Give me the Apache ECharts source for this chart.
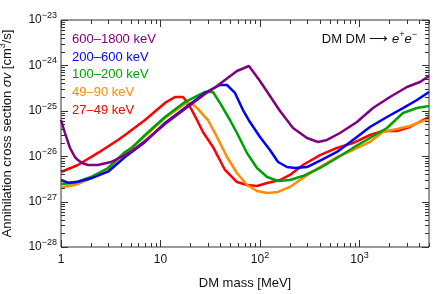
<!DOCTYPE html>
<html><head><meta charset="utf-8">
<script src="https://cdn.jsdelivr.net/npm/echarts@6/dist/echarts.min.js"></script>
<style>html,body{margin:0;padding:0;background:#fff}#c{width:436px;height:294px}</style>
</head><body><div id="c"></div>
<script>
// ---- data ----
const seriesNames = ['27–49 keV', '49–90 keV', '100–200 keV', '200–600 keV', '600–1800 keV'];
const seriesColors = ['#ff0000', '#ff8c00', '#00a000', '#0000ff', '#800080'];

// DM mass [MeV] and sigma v [cm^3/s]
const massRed = [1, 1.48, 2.35, 3.74, 4.4, 6.99, 11.1, 14.0, 16.8, 18.9, 23.3, 26.7, 33.7, 44.5, 58.7, 74.0, 93.3, 118, 159, 200, 270, 401, 594, 860, 1275, 1723, 2382, 3217, 4346, 5000];
const svRed = [4.49e-27, 6.40e-27, 1.18e-26, 2.28e-26, 2.93e-26, 6.27e-26, 1.49e-25, 2.01e-25, 2.01e-25, 1.49e-25, 6.27e-26, 3.41e-26, 1.60e-26, 4.97e-27, 2.70e-27, 2.32e-27, 2.21e-27, 2.57e-27, 2.99e-27, 3.86e-27, 6.40e-27, 1.06e-26, 1.52e-26, 1.95e-26, 2.93e-26, 3.59e-26, 3.59e-26, 4.40e-26, 6.27e-26, 7.3e-26];

const massOrange = [1, 1.38, 2.0, 2.97, 4.4, 6.99, 11.1, 17.6, 20.3, 23.8, 28.0, 30.0, 37.0, 46.6, 58.7, 74.0, 93.3, 118, 152, 200, 270, 401, 594, 860, 1275, 1723, 2382, 3217, 4346, 5000];
const svOrange = [2.07e-27, 2.32e-27, 3.23e-27, 5.23e-27, 1.18e-26, 2.79e-26, 6.94e-26, 1.41e-25, 1.49e-25, 1.10e-25, 7.3e-26, 6.27e-26, 2.65e-26, 9.6e-27, 4.27e-27, 2.32e-27, 1.71e-27, 1.55e-27, 1.63e-27, 2.10e-27, 3.31e-27, 5.78e-27, 9.6e-27, 1.37e-26, 2.06e-26, 3.41e-26, 3.97e-26, 4.62e-26, 5.96e-26, 6.59e-26];

const massGreen = [1, 1.38, 2.0, 2.97, 4.4, 5.29, 6.99, 11.1, 17.6, 28.0, 33.7, 39.6, 49.9, 58.7, 74.0, 93.3, 118, 152, 200, 270, 401, 594, 860, 1275, 1890, 2736, 3785, 5000];
const svGreen = [2.44e-27, 2.61e-27, 3.48e-27, 5.50e-27, 1.24e-26, 1.60e-26, 2.93e-26, 7.3e-26, 1.56e-25, 2.60e-25, 2.60e-25, 1.49e-25, 6.27e-26, 3.24e-26, 1.18e-26, 5.50e-27, 3.48e-27, 2.85e-27, 2.99e-27, 3.66e-27, 5.50e-27, 9.12e-27, 1.52e-26, 2.52e-26, 4.18e-26, 8.95e-26, 1.15e-25, 1.28e-25];

const massBlue = [1, 1.176, 1.48, 2.0, 2.97, 4.4, 6.99, 11.1, 17.6, 28.0, 39.6, 46.6, 56.1, 67.5, 79.3, 100, 126, 152, 187, 225, 297, 430, 594, 860, 1275, 1890, 2736, 3785, 5000];
const svBlue = [2.99e-27, 2.61e-27, 2.74e-27, 3.26e-27, 4.56e-27, 9.6e-27, 2.06e-26, 5.38e-26, 1.15e-25, 2.47e-25, 3.70e-25, 3.70e-25, 2.47e-25, 1.04e-25, 5.66e-26, 2.65e-26, 1.37e-26, 7.45e-27, 5.78e-27, 5.50e-27, 5.78e-27, 8.67e-27, 1.24e-26, 2.28e-26, 4.40e-26, 7.3e-26, 1.15e-25, 1.73e-25, 2.60e-25];

const massPurple = [1, 1.097, 1.23, 1.38, 1.48, 1.63, 1.87, 2.35, 3.18, 4.4, 5.29, 6.99, 11.1, 17.6, 28.0, 37.0, 58.7, 77.5, 100, 159, 215, 297, 383, 472, 637, 944, 1367, 2025, 3002, 4055, 5000];
const svPurple = [6.27e-26, 3.24e-26, 1.52e-26, 9.6e-27, 8.24e-27, 7.08e-27, 6.40e-27, 6.40e-27, 7.45e-27, 1.06e-26, 1.37e-26, 2.16e-26, 5.12e-26, 1.10e-25, 2.34e-25, 3.52e-25, 7.53e-25, 9.7e-25, 4.53e-25, 9.9e-26, 4.18e-26, 2.52e-26, 2.06e-26, 2.28e-26, 3.24e-26, 5.66e-26, 1.15e-25, 2.01e-25, 3.34e-25, 4.31e-25, 5.84e-25];

const xMin = 1, xMax = 5000;
const yMinExp = -28, yMaxExp = -23;
const xLabelValues = [1, 10, 100, 1000];

// ---- build ----
// ECharts' log scale rounds very small numbers to 0, so the y values are
// expressed in units of 10^-28 cm^3/s on the log axis and labelled back.
const Y_UNIT_EXP = -28;
const yScale = v => v * Math.pow(10, -Y_UNIT_EXP);
const yMin = yScale(Math.pow(10, yMinExp)), yMax = yScale(Math.pow(10, yMaxExp));

const FONT = '"Liberation Sans", Arial, Helvetica, sans-serif';
const masses = [massRed, massOrange, massGreen, massBlue, massPurple];
const svs = [svRed, svOrange, svGreen, svBlue, svPurple];

function zip(a, b) { return a.map((v, i) => [v, yScale(b[i])]); }

// tick list: [x, y, kind(0=x,1=y), major]
const tickItems = [];
for (let e = 0; e <= 3; e++) {
  for (let k = 1; k <= 9; k++) {
    const v = k * Math.pow(10, e);
    if (v <= xMax) tickItems.push([v, yMin, 0, k === 1 ? 1 : 0]);
  }
}
for (let e = yMinExp; e < yMaxExp; e++) {
  for (let k = 1; k <= 9; k++) {
    tickItems.push([xMin, yScale(k * Math.pow(10, e)), 1, k === 1 ? 1 : 0]);
  }
}
tickItems.push([xMin, yMax, 1, 1]);

const lineSeries = seriesNames.map((n, i) => ({
  name: n, type: 'line', data: zip(masses[i], svs[i]), showSymbol: false,
  lineStyle: { color: seriesColors[i], width: 2.5 }, itemStyle: { color: seriesColors[i] },
  emphasis: { disabled: true }, animation: false, z: 3 + i
}));

const tickSeries = {
  type: 'custom', data: tickItems, silent: true, animation: false, clip: false, z: 10,
  encode: { x: 0, y: 1 },
  renderItem: function (params, api) {
    const kind = api.value(2), major = api.value(3);
    const len = major ? 7 : 4;
    const st = { stroke: '#333', lineWidth: 1 };
    if (kind === 0) {
      const v = api.value(0);
      const pb = api.coord([v, yMin]), pt = api.coord([v, yMax]);
      const x = Math.round(pb[0]) + 0.5;
      return { type: 'group', children: [
        { type: 'line', shape: { x1: x, y1: pb[1], x2: x, y2: pb[1] - len }, style: st },
        { type: 'line', shape: { x1: x, y1: pt[1], x2: x, y2: pt[1] + len }, style: st }
      ]};
    } else {
      const v = api.value(1);
      const pl = api.coord([xMin, v]), pr = api.coord([xMax, v]);
      const y = Math.round(pl[1]) + 0.5;
      return { type: 'group', children: [
        { type: 'line', shape: { x1: pl[0], y1: y, x2: pl[0] + len, y2: y }, style: st },
        { type: 'line', shape: { x1: pr[0], y1: y, x2: pr[0] - len, y2: y }, style: st }
      ]};
    }
  }
};

const supRich = {
  b: { fontSize: 12, fontFamily: FONT, color: '#111', lineHeight: 18 },
  s: { fontSize: 9, fontFamily: FONT, color: '#111', lineHeight: 9, verticalAlign: 'top' }
};

const option = {
  animation: false,
  grid: { left: 61, right: 7, top: 20, bottom: 47, show: true, borderColor: '#333', borderWidth: 1,
          containLabel: false, outerBoundsMode: 'none' },
  legend: {
    orient: 'vertical', left: 67, top: 33, icon: 'none', itemWidth: 0, itemHeight: 13, itemGap: 4.7,
    selectedMode: false, padding: 0,
    textStyle: { fontSize: 13, fontFamily: FONT },
    data: [4, 3, 2, 1, 0].map(i => ({ name: seriesNames[i], textStyle: { color: seriesColors[i] } }))
  },
  xAxis: {
    type: 'log', logBase: 10, min: xMin, max: xMax,
    name: 'DM mass [MeV]', nameLocation: 'middle', nameGap: 30,
    nameTextStyle: { fontSize: 13, fontFamily: FONT, color: '#111' },
    axisLine: { show: false }, axisTick: { show: false }, splitLine: { show: false },
    axisLabel: {
      margin: 4, showMaxLabel: false,
      formatter: function (v) {
        const e = Math.round(Math.log10(v));
        if (Math.abs(v - Math.pow(10, e)) > 1e-6 * v || xLabelValues.indexOf(Math.pow(10, e)) < 0) return '';
        if (e === 0) return '{b|1}';
        if (e === 1) return '{b|10}';
        return '{b|10}{s|' + e + '}';
      },
      rich: supRich
    }
  },
  yAxis: {
    type: 'log', logBase: 10, min: yMin, max: yMax,
    name: 'Annihilation cross section {i|σv} [cm{s|3}/s]', nameLocation: 'middle', nameGap: 45,
    nameTextStyle: {
      fontSize: 13, fontFamily: FONT, color: '#111',
      rich: {
        i: { fontSize: 13, fontFamily: FONT, fontStyle: 'italic', color: '#111', lineHeight: 18 },
        s: { fontSize: 9, fontFamily: FONT, color: '#111', lineHeight: 9, verticalAlign: 'top' }
      }
    },
    axisLine: { show: false }, axisTick: { show: false }, splitLine: { show: false },
    axisLabel: {
      margin: 4,
      formatter: function (v) {
        const e = Math.round(Math.log10(v)) + Y_UNIT_EXP;
        return '{b|10}{s|' + (e < 0 ? '\u2212' + (-e) : e) + '}';
      },
      rich: supRich
    }
  },
  graphic: [{
    type: 'text', right: 19, top: 30, silent: true,
    style: {
      text: 'DM DM \u27F6 {i|e}{s|+}{i|e}{s|\u2212}',
      font: '13px ' + FONT, fill: '#111',
      rich: {
        i: { fontSize: 13, fontFamily: FONT, fontStyle: 'italic', lineHeight: 18, fill: '#111' },
        s: { fontSize: 9, fontFamily: FONT, lineHeight: 9, verticalAlign: 'top', fill: '#111' }
      }
    }
  }],
  series: lineSeries.concat([tickSeries])
};

const chart = echarts.init(document.getElementById('c'), null, { renderer: 'canvas' });
chart.setOption(option);
</script>
</body></html>
